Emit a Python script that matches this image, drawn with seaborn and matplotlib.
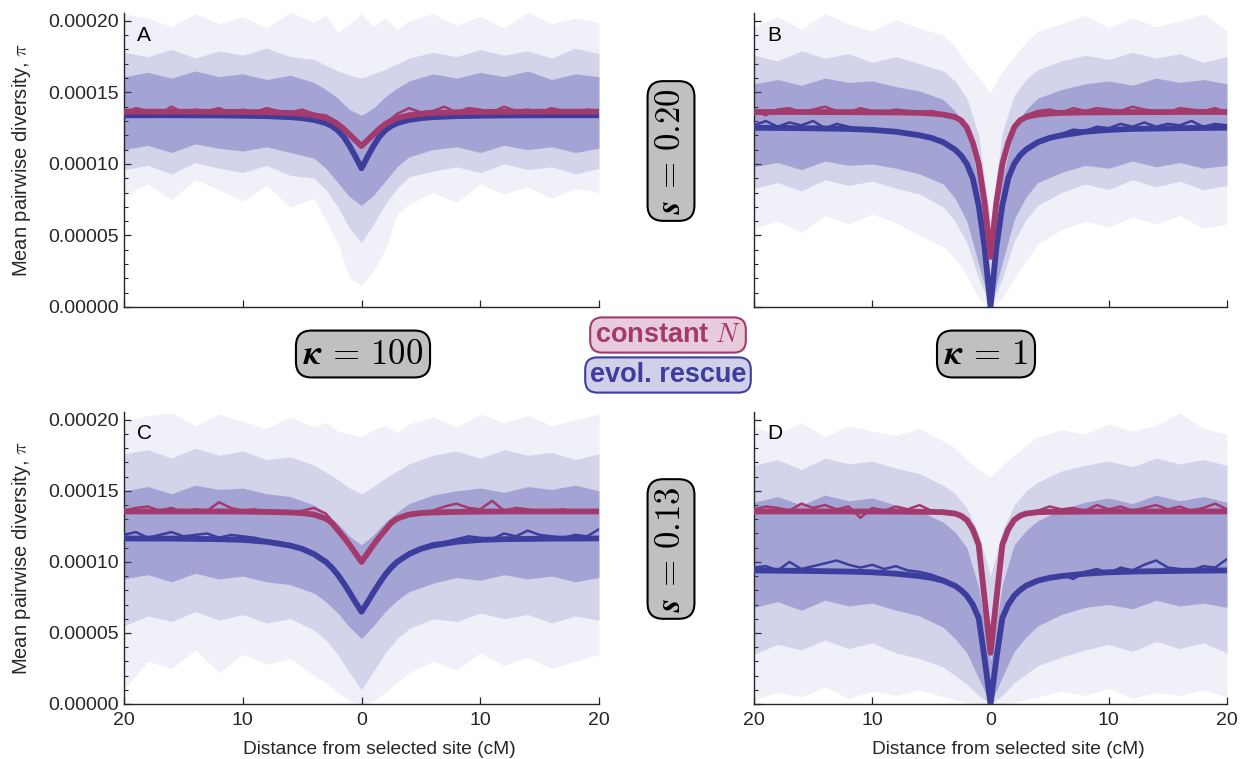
"""Sweep of pairwise diversity around a selected site: constant N vs evolutionary rescue."""
import matplotlib
matplotlib.use("Agg")
import matplotlib.pyplot as plt
import matplotlib.ticker as mticker
import numpy as np
import seaborn as sns

# ── Colours ───────────────────────────────────────────────────────────
RED = "#A23A6E"
BLUE = "#3D3D9E"
HAZE = "#4646A8"
AXIS = "#262626"

# ── Data (diversity in units of 1e-5) ────────────────────────────────
SCALE = 1e-5

# grid for the smooth (theory) curves
XS = [-20, -16, -12, -10, -8, -6, -5, -4, -3, -2.5, -2, -1.5, -1, -0.5, 0,
      0.5, 1, 1.5, 2, 2.5, 3, 4, 5, 6, 8, 10, 12, 16, 20]
# grid for simulation means
XM = list(range(-20, 21))
# grid for the replicate spread (envelopes)
XH = [-20, -18, -16, -14, -12, -10, -8, -6, -4, -3, -2, -1, 0,
      1, 2, 3, 4, 6, 8, 10, 12, 14, 16, 18, 20]

# Panel A  (kappa = 100, s = 0.20)
a_blue_smooth = [13.40, 13.40, 13.39, 13.37, 13.34, 13.27, 13.20, 13.08, 12.85, 12.65, 12.35, 11.90, 11.25, 10.50, 9.70,
                 10.50, 11.25, 11.90, 12.35, 12.65, 12.85, 13.08, 13.20, 13.27, 13.34, 13.37, 13.39, 13.40, 13.40]
a_red_smooth = [13.65, 13.65, 13.64, 13.63, 13.61, 13.56, 13.50, 13.40, 13.20, 13.02, 12.78, 12.45, 12.05, 11.65, 11.25,
                11.65, 12.05, 12.45, 12.78, 13.02, 13.20, 13.40, 13.50, 13.56, 13.61, 13.63, 13.64, 13.65, 13.65]
a_red_mean = [13.6, 13.9, 13.7, 13.5, 14.0, 13.6, 13.8, 13.7, 13.9, 13.6, 13.8, 13.6, 13.9, 13.7, 13.6, 13.8, 13.5,
              13.4, 12.9, 12.1, 11.3, 12.2, 12.8, 13.5,
              13.9, 13.6, 13.7, 14.0, 13.6, 13.9, 13.8, 13.6, 14.0, 13.7, 13.8, 13.6, 13.9, 13.7, 13.6, 13.8, 13.7]
a_blue_mean = [13.5, 13.3, 13.4, 13.6, 13.4, 13.3, 13.5, 13.4, 13.3, 13.5, 13.4, 13.3, 13.5, 13.4, 13.3, 13.4, 13.2,
               12.9, 12.3, 11.3, 9.7, 11.2, 12.4, 12.9,
               13.1, 13.3, 13.4, 13.5, 13.3, 13.4, 13.5, 13.3, 13.4, 13.6, 13.4, 13.3, 13.5, 13.4, 13.5, 13.3, 13.4]
a_out_lo = [7.8, 8.6, 7.5, 8.9, 8.2, 7.4, 8.5, 7.0, 7.6, 6.0, 4.5, 2.0, 1.5, 2.5, 4.0, 6.5, 7.2, 8.0, 7.3, 8.6, 7.9, 8.4, 7.6, 8.3, 8.0]
a_out_hi = [20.5, 20.2, 19.6, 20.5, 19.8, 20.3, 19.5, 20.6, 19.9, 20.4, 19.2, 19.8, 20.5, 19.6, 20.2, 19.4, 20.0, 20.5, 19.7, 20.3, 19.5, 20.6, 19.8, 20.2, 19.9]
a_mid_lo = [9.6, 9.9, 9.3, 10.1, 9.7, 9.4, 9.9, 9.2, 9.0, 8.2, 7.0, 5.5, 4.5, 5.8, 7.2, 8.3, 9.1, 9.5, 9.8, 9.4, 10.0, 9.6, 9.8, 9.3, 9.7]
a_mid_hi = [17.8, 17.5, 18.0, 17.4, 17.9, 17.6, 18.1, 17.5, 17.3, 16.9, 16.5, 16.2, 16.0, 16.3, 16.6, 17.0, 17.4, 17.8, 17.5, 18.0, 17.6, 17.9, 17.4, 18.1, 17.7]
a_in_lo = [11.0, 11.3, 10.8, 11.4, 11.1, 10.9, 11.2, 10.8, 10.4, 9.7, 8.7, 7.7, 7.1, 7.8, 8.8, 9.8, 10.5, 11.0, 11.2, 10.8, 11.3, 11.0, 11.2, 10.8, 11.1]
a_in_hi = [16.1, 16.4, 16.0, 16.5, 16.1, 16.3, 15.9, 16.2, 15.7, 15.2, 14.6, 13.8, 13.4, 13.9, 14.7, 15.3, 15.8, 16.3, 16.0, 16.4, 16.1, 16.5, 15.9, 16.3, 16.1]

# Panel B  (kappa = 1, s = 0.20)
b_blue_smooth = [12.53, 12.50, 12.45, 12.38, 12.25, 12.00, 11.82, 11.52, 11.00, 10.60, 10.00, 9.00, 7.10, 4.20, 0.00,
                 4.20, 7.10, 9.00, 10.00, 10.60, 11.00, 11.52, 11.82, 12.00, 12.25, 12.38, 12.45, 12.50, 12.53]
b_red_smooth = [13.63, 13.63, 13.62, 13.61, 13.60, 13.57, 13.53, 13.45, 13.28, 13.05, 12.55, 11.50, 10.00, 7.30, 3.50,
                7.30, 10.00, 11.50, 12.55, 13.05, 13.28, 13.45, 13.53, 13.57, 13.60, 13.61, 13.62, 13.63, 13.63]
b_red_mean = [13.7, 13.4, 13.8, 13.9, 13.6, 13.8, 14.0, 13.7, 13.6, 13.9, 13.7, 13.6, 13.8, 13.7, 13.6, 13.7, 13.5,
              13.3, 12.6, 10.1, 3.6, 10.2, 12.7, 13.4,
              13.7, 13.8, 13.6, 13.9, 13.7, 13.9, 13.8, 13.7, 14.0, 13.8, 13.7, 13.6, 13.9, 13.8, 13.7, 13.9, 13.6]
b_blue_mean = [12.7, 13.0, 12.6, 12.9, 12.7, 13.0, 12.5, 12.8, 12.6, 12.4, 12.5, 12.3, 12.2, 12.1, 12.0, 11.9, 11.6,
               11.1, 10.1, 7.2, 0.0, 7.3, 10.2, 11.1,
               11.6, 11.9, 12.1, 12.4, 12.3, 12.6, 12.5, 12.8, 12.6, 12.9, 12.6, 12.8, 12.7, 13.0, 12.6, 12.8, 12.7]
b_out_lo = [5.5, 6.0, 5.2, 6.4, 5.8, 6.5, 5.9, 5.0, 4.2, 3.4, 2.2, 0.6, 0.0, 0.6, 2.0, 3.2, 4.4, 5.4, 6.0, 5.6, 6.3, 5.8, 6.4, 5.5, 5.8]
b_out_hi = [19.6, 20.3, 19.4, 20.5, 19.8, 19.3, 20.1, 19.5, 19.0, 18.2, 17.0, 16.0, 15.0, 16.5, 17.5, 18.5, 19.3, 19.8, 20.4, 19.5, 20.2, 19.6, 20.0, 20.5, 19.3]
b_mid_lo = [8.3, 8.7, 8.1, 8.9, 8.5, 8.8, 8.3, 7.9, 7.0, 6.0, 4.5, 2.0, 0.0, 2.0, 4.6, 6.1, 7.1, 8.0, 8.6, 8.2, 8.9, 8.4, 8.8, 8.2, 8.5]
b_mid_hi = [17.6, 17.2, 17.9, 17.4, 17.7, 17.1, 17.5, 17.0, 16.5, 15.8, 14.6, 12.0, 6.0, 12.2, 14.8, 15.9, 16.6, 17.2, 17.6, 17.3, 17.8, 17.4, 17.7, 17.1, 17.5]
b_in_lo = [9.8, 10.1, 9.6, 10.2, 9.9, 10.0, 9.7, 9.3, 8.6, 7.6, 6.0, 3.0, 0.0, 3.1, 6.1, 7.7, 8.7, 9.4, 9.9, 9.7, 10.2, 9.8, 10.1, 9.7, 9.9]
b_in_hi = [15.6, 15.9, 15.5, 16.0, 15.7, 15.8, 15.4, 15.1, 14.5, 13.7, 12.3, 8.8, 2.0, 9.0, 12.5, 13.8, 14.6, 15.2, 15.6, 15.8, 15.5, 16.0, 15.7, 15.9, 15.6]

# Panel C  (kappa = 100, s = 0.13)
c_blue_smooth = [11.65, 11.64, 11.60, 11.55, 11.42, 11.15, 10.92, 10.55, 10.00, 9.60, 9.10, 8.50, 7.85, 7.15, 6.50,
                 7.15, 7.85, 8.50, 9.10, 9.60, 10.00, 10.55, 10.92, 11.15, 11.42, 11.55, 11.60, 11.64, 11.65]
c_red_smooth = [13.55, 13.55, 13.55, 13.54, 13.52, 13.48, 13.44, 13.33, 13.05, 12.75, 12.25, 11.75, 11.20, 10.60, 10.00,
                10.60, 11.20, 11.75, 12.25, 12.75, 13.05, 13.33, 13.44, 13.48, 13.52, 13.54, 13.55, 13.55, 13.55]
c_red_mean = [13.6, 13.8, 13.9, 13.6, 13.8, 13.5, 13.7, 13.6, 14.2, 13.8, 13.6, 13.7, 13.5, 13.6, 13.5, 13.6, 13.8,
              13.4, 12.4, 11.3, 10.0, 11.3, 12.3, 13.1,
              13.3, 13.5, 13.6, 13.9, 14.1, 13.8, 13.7, 14.3, 13.6, 13.8, 13.7, 13.5, 13.6, 13.7, 13.5, 13.6, 13.6]
c_blue_mean = [11.9, 12.1, 11.7, 11.9, 12.1, 11.8, 11.9, 12.0, 11.7, 11.9, 11.8, 11.7, 11.5, 11.4, 11.2, 11.0, 10.6,
               10.0, 9.1, 7.9, 6.5, 7.9, 9.1, 10.0,
               10.6, 11.0, 11.3, 11.4, 11.6, 11.8, 11.7, 11.6, 12.0, 11.8, 12.2, 11.9, 11.8, 11.7, 11.9, 11.8, 12.3]
c_out_lo = [1.0, 3.0, 2.5, 3.8, 2.2, 3.5, 2.8, 3.2, 2.0, 1.5, 0.8, 0.2, 0.0, 0.2, 0.8, 1.5, 2.2, 3.0, 2.4, 3.6, 2.7, 3.3, 2.5, 3.0, 3.5]
c_out_hi = [19.8, 20.3, 20.5, 19.6, 20.4, 19.9, 19.4, 20.2, 19.5, 19.8, 19.2, 19.0, 18.8, 19.3, 19.6, 19.1, 19.7, 20.2, 19.5, 20.4, 19.8, 20.3, 19.6, 20.0, 20.4]
c_mid_lo = [5.5, 6.2, 5.8, 6.5, 5.9, 6.3, 5.7, 6.0, 5.2, 4.5, 3.5, 2.2, 1.0, 2.3, 3.6, 4.6, 5.3, 6.0, 5.8, 6.4, 6.0, 6.3, 5.7, 6.2, 5.9]
c_mid_hi = [17.6, 17.9, 17.3, 18.0, 17.5, 17.8, 17.2, 17.4, 16.8, 16.3, 15.8, 15.2, 14.8, 15.3, 15.9, 16.4, 16.9, 17.5, 17.8, 17.3, 17.9, 17.5, 17.7, 17.2, 17.6]
c_in_lo = [8.8, 9.1, 8.6, 9.2, 8.8, 9.0, 8.6, 8.4, 7.8, 7.2, 6.4, 5.4, 4.6, 5.5, 6.5, 7.3, 7.9, 8.5, 8.9, 8.7, 9.1, 8.8, 9.0, 8.6, 8.9]
c_in_hi = [15.0, 15.3, 14.8, 15.4, 15.1, 15.2, 14.8, 14.6, 14.0, 13.4, 12.7, 11.8, 11.2, 11.9, 12.8, 13.5, 14.1, 14.7, 15.0, 15.2, 14.9, 15.3, 15.1, 15.4, 15.0]

# Panel D  (kappa = 1, s = 0.13)
d_blue_smooth = [9.40, 9.37, 9.32, 9.27, 9.17, 9.00, 8.88, 8.68, 8.32, 8.02, 7.62, 7.00, 6.05, 3.20, 0.00,
                 3.20, 6.05, 7.00, 7.62, 8.02, 8.32, 8.68, 8.88, 9.00, 9.17, 9.27, 9.32, 9.37, 9.40]
d_red_smooth = [13.55, 13.55, 13.55, 13.55, 13.54, 13.53, 13.52, 13.50, 13.40, 13.25, 12.95, 12.30, 11.20, 7.40, 3.60,
                7.40, 11.20, 12.30, 12.95, 13.25, 13.40, 13.50, 13.52, 13.53, 13.54, 13.55, 13.55, 13.55, 13.55]
d_red_mean = [13.7, 13.9, 13.8, 13.6, 14.1, 13.8, 14.0, 13.7, 13.9, 13.1, 13.8, 13.6, 13.9, 13.7, 14.0, 13.6, 13.5,
              13.4, 12.9, 11.2, 3.6, 11.3, 12.9, 13.4,
              13.6, 13.9, 13.7, 13.8, 13.6, 14.0, 13.7, 13.9, 13.6, 13.8, 14.0, 13.7, 13.9, 13.6, 13.8, 14.1, 13.7]
d_blue_mean = [9.6, 9.7, 9.4, 10.0, 9.5, 9.7, 9.9, 10.1, 9.8, 9.6, 9.8, 9.5, 9.7, 9.4, 9.3, 9.1, 8.8,
               8.3, 7.6, 6.0, 0.0, 6.1, 7.7, 8.3,
               8.7, 8.9, 9.1, 8.8, 9.3, 9.5, 9.2, 9.6, 9.4, 9.8, 10.1, 9.6, 9.5, 9.4, 9.7, 9.6, 10.2]
d_out_lo = [0.3, 0.8, 0.5, 1.2, 0.4, 0.9, 0.6, 1.0, 0.5, 0.3, 0.1, 0.0, 0.0, 0.0, 0.1, 0.3, 0.5, 0.9, 0.6, 1.1, 0.4, 0.8, 0.6, 1.0, 0.5]
d_out_hi = [19.5, 19.0, 19.8, 18.8, 19.6, 19.2, 18.9, 19.4, 18.5, 18.0, 17.2, 16.5, 16.0, 16.8, 17.5, 18.2, 18.8, 19.3, 19.0, 19.7, 19.2, 19.6, 20.5, 19.4, 19.0]
d_mid_lo = [3.5, 4.2, 3.8, 4.5, 3.9, 4.3, 3.6, 3.2, 2.6, 2.0, 1.4, 0.6, 0.0, 0.6, 1.5, 2.1, 2.7, 3.3, 3.8, 4.2, 3.7, 4.4, 3.9, 4.3, 3.6]
d_mid_hi = [16.8, 17.2, 16.5, 17.3, 16.9, 17.1, 16.6, 16.2, 15.4, 14.8, 13.8, 12.0, 9.0, 12.2, 14.0, 15.0, 15.6, 16.4, 16.8, 17.1, 16.7, 17.3, 16.9, 17.2, 16.8]
d_in_lo = [6.8, 7.2, 6.6, 7.3, 6.9, 7.1, 6.6, 6.2, 5.4, 4.6, 3.6, 1.8, 0.0, 1.9, 3.7, 4.7, 5.5, 6.3, 6.8, 7.0, 6.7, 7.3, 6.9, 7.1, 6.8]
d_in_hi = [14.2, 14.6, 14.0, 14.7, 14.3, 14.5, 14.0, 13.6, 12.8, 12.1, 11.0, 8.2, 3.0, 8.4, 11.2, 12.2, 12.9, 13.7, 14.2, 14.5, 14.1, 14.7, 14.3, 14.6, 14.2]

X_TICKS = [-20, -10, 0, 10, 20]
X_TICK_LABELS = ["20", "10", "0", "10", "20"]
Y_TICKS = [0, 5e-5, 10e-5, 15e-5, 20e-5]
Y_TICK_LABELS = ["0.00000", "0.00005", "0.00010", "0.00015", "0.00020"]

PANELS = {
    "A": dict(smooth=(a_blue_smooth, a_red_smooth), mean=(a_blue_mean, a_red_mean),
              haze=[(a_out_lo, a_out_hi), (a_mid_lo, a_mid_hi), (a_in_lo, a_in_hi)]),
    "B": dict(smooth=(b_blue_smooth, b_red_smooth), mean=(b_blue_mean, b_red_mean),
              haze=[(b_out_lo, b_out_hi), (b_mid_lo, b_mid_hi), (b_in_lo, b_in_hi)]),
    "C": dict(smooth=(c_blue_smooth, c_red_smooth), mean=(c_blue_mean, c_red_mean),
              haze=[(c_out_lo, c_out_hi), (c_mid_lo, c_mid_hi), (c_in_lo, c_in_hi)]),
    "D": dict(smooth=(d_blue_smooth, d_red_smooth), mean=(d_blue_mean, d_red_mean),
              haze=[(d_out_lo, d_out_hi), (d_mid_lo, d_mid_hi), (d_in_lo, d_in_hi)]),
}

# ── Style ─────────────────────────────────────────────────────────────
sns.set_theme(style="ticks")
plt.rcParams.update({
    "font.family": ["Liberation Sans", "DejaVu Sans"],
    "mathtext.fontset": "cm",
    "axes.edgecolor": AXIS,
    "axes.linewidth": 1.0,
    "xtick.color": AXIS,
    "ytick.color": AXIS,
    "xtick.direction": "in",
    "ytick.direction": "in",
    "text.color": "black",
})

W, H = 1242, 759
fig = plt.figure(figsize=(W / 100, H / 100), dpi=100)


def rect(left, top, right, bottom):
    return [left / W, 1 - bottom / H, (right - left) / W, (bottom - top) / H]


AX_RECTS = {
    "A": rect(124, 13, 599, 307),
    "B": rect(754, 13, 1227, 307),
    "C": rect(124, 412, 599, 704),
    "D": rect(754, 412, 1227, 704),
}
HAZE_ALPHA = [0.08, 0.17, 0.33]


def draw_panel(key):
    ax = fig.add_axes(AX_RECTS[key])
    p = PANELS[key]
    for (lo, hi), a in zip(p["haze"], HAZE_ALPHA):
        ax.fill_between(XH, np.array(lo) * SCALE, np.array(hi) * SCALE,
                        color=HAZE, alpha=a, lw=0, zorder=1)
    blue_s, red_s = p["smooth"]
    blue_m, red_m = p["mean"]
    sns.lineplot(x=XM, y=np.array(blue_m) * SCALE, ax=ax, color=BLUE, lw=1.8, zorder=3)
    sns.lineplot(x=XS, y=np.array(blue_s) * SCALE, ax=ax, color=BLUE, lw=4.2, zorder=4)
    sns.lineplot(x=XM, y=np.array(red_m) * SCALE, ax=ax, color=RED, lw=1.8, zorder=5)
    sns.lineplot(x=XS, y=np.array(red_s) * SCALE, ax=ax, color=RED, lw=4.2, zorder=6)

    ax.set_xlim(-20, 20)
    ax.set_ylim(0, 20.55 * SCALE)
    sns.despine(ax=ax)
    ax.set_xticks(X_TICKS)
    ax.set_yticks(Y_TICKS)
    ax.yaxis.set_minor_locator(mticker.MultipleLocator(1e-5))
    ax.tick_params(which="major", length=5, width=0.9, labelsize=14)
    ax.tick_params(axis="y", which="major", pad=4)
    ax.tick_params(axis="x", which="major", pad=6)
    ax.tick_params(which="minor", length=3, width=0.8)
    ax.tick_params(axis="x", which="minor", bottom=False)
    ax.set_xlabel("")
    ax.set_ylabel("")
    if key in ("A", "C"):
        ax.set_yticklabels(Y_TICK_LABELS)
        ax.set_ylabel(r"Mean pairwise diversity, $\pi$", fontsize=14.5, labelpad=11)
    else:
        ax.set_yticklabels([])
    if key in ("C", "D"):
        ax.set_xticklabels(X_TICK_LABELS)
        ax.set_xlabel("Distance from selected site (cM)", fontsize=13.8)
        ax.xaxis.set_label_coords(0.538, -0.125)
    else:
        ax.set_xticklabels([])
    ax.text(0.027, 0.925, key, transform=ax.transAxes, ha="left", va="center", fontsize=15)
    return ax


for k in PANELS:
    draw_panel(k)

gray_box = dict(boxstyle="round,pad=0.2,rounding_size=0.45", fc="#C0C0C0", ec="black", lw=1.5)
fig.text(671 / W, 1 - 151 / H, r"$\boldsymbol{s}\,\mathbf{=}\,\mathbf{0.20}$", rotation=90,
         ha="center", va="center", fontsize=25, bbox=gray_box)
fig.text(671 / W, 1 - 549 / H, r"$\boldsymbol{s}\,\mathbf{=}\,\mathbf{0.13}$", rotation=90,
         ha="center", va="center", fontsize=25, bbox=gray_box)
fig.text(363 / W, 1 - 354 / H, r"$\boldsymbol{\kappa}\,\mathbf{=}\,\mathbf{100}$",
         ha="center", va="center", fontsize=25, bbox=gray_box)
fig.text(986 / W, 1 - 354 / H, r"$\boldsymbol{\kappa}\,\mathbf{=}\,\mathbf{1}$",
         ha="center", va="center", fontsize=25, bbox=gray_box)

fig.text(668 / W, 1 - 335 / H, r"constant $N$", ha="center", va="center", fontsize=19.5,
         fontweight="bold", color=RED,
         bbox=dict(boxstyle="round,pad=0.17,rounding_size=0.45", fc="#E9CCDC", ec=RED, lw=1.5))
fig.text(668 / W, 1 - 375 / H, "evol. rescue", ha="center", va="center", fontsize=19.5,
         fontweight="bold", color=BLUE,
         bbox=dict(boxstyle="round,pad=0.17,rounding_size=0.45", fc="#D0D0E9", ec=BLUE, lw=1.5))

fig.savefig("out.png", dpi=100)
